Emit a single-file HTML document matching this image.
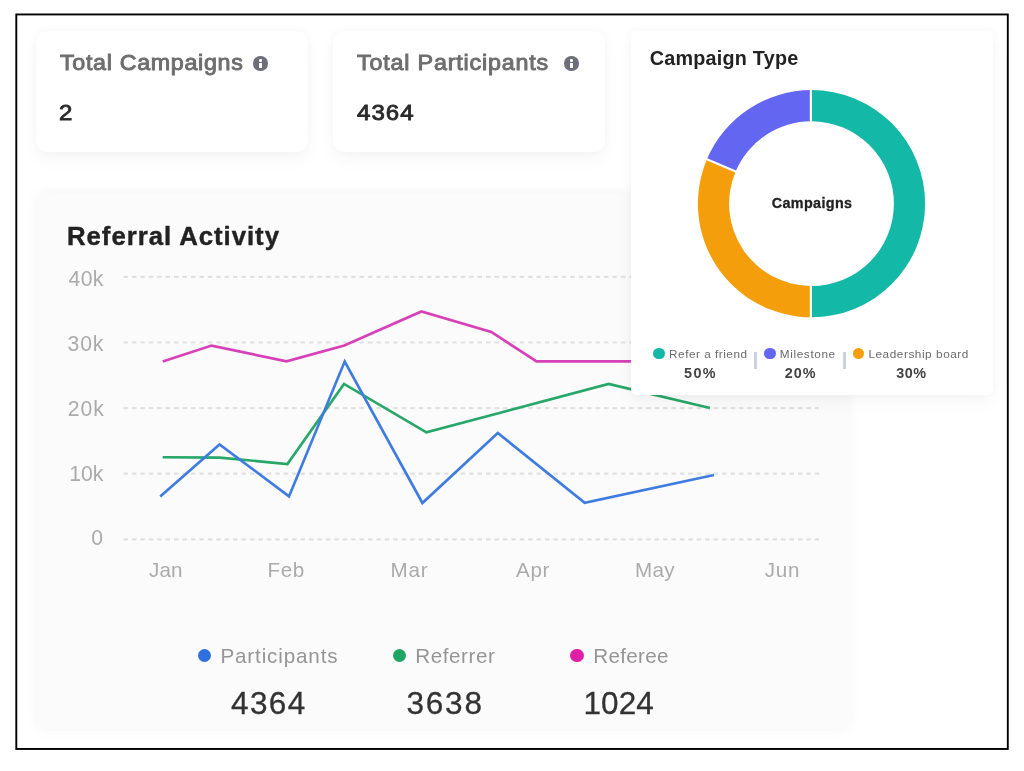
<!DOCTYPE html>
<html>
<head>
<meta charset="utf-8">
<style>
html,body{margin:0;padding:0;}
body{width:1024px;height:771px;background:#fff;position:relative;overflow:hidden;font-family:"Liberation Sans",sans-serif;}
.abs{position:absolute;}
.card{position:absolute;background:#fff;border-radius:12px;box-shadow:0 0 12px rgba(0,0,0,0.04),0 8px 18px rgba(0,0,0,0.035);}
.t{position:absolute;white-space:nowrap;line-height:1;}
.info{position:absolute;width:14.4px;height:14.4px;border-radius:50%;background:#6e6e7a;}
.info:before{content:"";position:absolute;left:6.1px;top:3.1px;width:2.2px;height:2.2px;background:#fff;border-radius:50%;}
.info:after{content:"";position:absolute;left:6.1px;top:6.2px;width:2.2px;height:5px;background:#fff;}
.dot{position:absolute;border-radius:50%;}
</style>
</head>
<body>
<div id="all" style="position:absolute;left:0;top:0;width:1024px;height:771px;filter:blur(0.4px);">
<svg class="abs" style="left:0;top:0;" width="1024" height="771"><rect x="16.3" y="14.45" width="991.5" height="734.5" fill="none" stroke="#000" stroke-width="1.9"/></svg>

<!-- Referral activity card -->
<div class="card" style="left:37px;top:193px;width:812px;height:536px;background:#fbfbfb;border-radius:5px;box-shadow:0 0 13px rgba(0,0,0,0.05);"></div>

<svg class="abs" style="left:0;top:0;" width="1024" height="771" viewBox="0 0 1024 771">
  <g stroke="#e1e1e1" stroke-width="2.2" stroke-dasharray="4.5 3.93" fill="none">
    <line x1="123.5" y1="276.9" x2="819" y2="276.9"/>
    <line x1="123.5" y1="342.5" x2="819" y2="342.5"/>
    <line x1="123.5" y1="408.1" x2="819" y2="408.1"/>
    <line x1="123.5" y1="473.7" x2="819" y2="473.7"/>
    <line x1="123.5" y1="539.3" x2="819" y2="539.3"/>
  </g>
  <g fill="none" stroke-width="2.65" stroke-linejoin="miter">
    <polyline stroke="#d840b8" points="162.7,361.5 211.6,345.6 286.6,361.4 344.3,345.5 421.4,311.5 491.3,332 536.5,361.4 640,361.4"/>
    <polyline stroke="#27a768" points="162.7,457.2 219.5,457.6 287.4,464 344,383.9 426.4,432.3 497.5,413.5 608.6,383.9 710,408"/>
    <polyline stroke="#3f7ce2" points="160.2,496.4 219.5,444.4 289,496.4 344.7,361.6 422.4,503 497.8,433 584.7,502.7 714,475"/>
  </g>
</svg>

<div class="dot" style="left:197.9px;top:648.9px;width:13.6px;height:13.6px;background:#2f6fde;"></div>
<div class="dot" style="left:392.8px;top:648.9px;width:13.6px;height:13.6px;background:#1fa463;"></div>
<div class="dot" style="left:570.3px;top:648.9px;width:13.6px;height:13.6px;background:#e01fa8;"></div>

<!-- stat cards -->
<div class="card" style="left:36px;top:31px;width:272px;height:121px;"></div>
<div class="info" style="left:253.3px;top:56.4px;"></div>
<div class="card" style="left:333px;top:31px;width:272px;height:121px;"></div>
<div class="info" style="left:564.4px;top:56.4px;"></div>

<!-- campaign type card -->
<div class="card" style="left:631px;top:31px;width:362px;height:364px;border-radius:6px;"></div>
<svg class="abs" style="left:0;top:0;" width="1024" height="771" viewBox="0 0 1024 771">
  <g transform="translate(811.5,203.7)">
    <path fill="#14b8a6" d="M0.00,-113.60 A113.6,113.6 0 0 1 0.00,113.60 L0.00,82.40 A82.4,82.4 0 0 0 0.00,-82.40 Z"/>
    <path fill="#f59e0b" d="M0.00,113.60 A113.6,113.6 0 0 1 -104.57,-44.39 L-75.85,-32.20 A82.4,82.4 0 0 0 0.00,82.40 Z"/>
    <path fill="#6366f1" d="M-104.57,-44.39 A113.6,113.6 0 0 1 -0.00,-113.60 L-0.00,-82.40 A82.4,82.4 0 0 0 -75.85,-32.20 Z"/>
    <line x1="-0.60" y1="-80.40" x2="-0.60" y2="-115.60" stroke="#fff" stroke-width="2.2"/>
    <line x1="-0.60" y1="80.40" x2="-0.60" y2="115.60" stroke="#fff" stroke-width="2.2"/>
    <line x1="-74.01" y1="-31.41" x2="-106.41" y2="-45.17" stroke="#fff" stroke-width="2.2"/>
  </g>
</svg>
<div class="dot" style="left:653.3px;top:347.7px;width:11.6px;height:11.6px;background:#14b8a6;"></div>
<div class="abs" style="left:754.3px;top:352.2px;width:2.7px;height:17.2px;background:#c9d1e6;"></div>
<div class="dot" style="left:764.0px;top:347.7px;width:11.6px;height:11.6px;background:#6366f1;"></div>
<div class="abs" style="left:843.2px;top:352.2px;width:2.7px;height:17.2px;background:#c9d1e6;"></div>
<div class="dot" style="left:852.8px;top:347.7px;width:11.6px;height:11.6px;background:#f59e0b;"></div>

<div id="txt" style="position:absolute;left:0;top:0;width:1024px;height:771px;will-change:transform;">
<div class="t" style="left:60.30px;top:52.00px;font-size:21.18px;font-weight:normal;color:#6e6e6e;letter-spacing:0.610px;transform:scaleX(1.1);transform-origin:0 0;-webkit-text-stroke:0.9px #6e6e6e;">Total Campaigns</div>
<div class="t" style="left:58.90px;top:101.25px;font-size:22.68px;font-weight:normal;color:#2a2a2a;letter-spacing:0.000px;transform:scaleX(1.06);transform-origin:0 0;-webkit-text-stroke:0.85px #2a2a2a;">2</div>
<div class="t" style="left:357.40px;top:52.00px;font-size:21.18px;font-weight:normal;color:#6e6e6e;letter-spacing:0.738px;transform:scaleX(1.1);transform-origin:0 0;-webkit-text-stroke:0.9px #6e6e6e;">Total Participants</div>
<div class="t" style="left:356.80px;top:101.25px;font-size:22.68px;font-weight:normal;color:#2a2a2a;letter-spacing:1.006px;transform:scaleX(1.06);transform-origin:0 0;-webkit-text-stroke:0.85px #2a2a2a;">4364</div>
<div class="t" style="left:67.00px;top:223.50px;font-size:25.76px;font-weight:bold;color:#222;letter-spacing:0.963px;-webkit-text-stroke:0.4px #222;">Referral Activity</div>
<div class="t" style="left:649.70px;top:48.75px;font-size:19.77px;font-weight:bold;color:#222;letter-spacing:0.233px;">Campaign Type</div>
<div class="t" style="left:771.80px;top:196.00px;font-size:14.37px;font-weight:bold;color:#222;letter-spacing:0.350px;-webkit-text-stroke:0.3px #222;">Campaigns</div>
<div class="t" style="left:68.60px;top:268.00px;font-size:21.20px;font-weight:normal;color:#ababab;letter-spacing:0.300px;">40k</div>
<div class="t" style="left:67.60px;top:333.25px;font-size:21.20px;font-weight:normal;color:#ababab;letter-spacing:0.800px;">30k</div>
<div class="t" style="left:67.80px;top:398.00px;font-size:21.20px;font-weight:normal;color:#ababab;letter-spacing:1.000px;">20k</div>
<div class="t" style="left:69.30px;top:462.50px;font-size:21.20px;font-weight:normal;color:#ababab;letter-spacing:-0.100px;">10k</div>
<div class="t" style="left:91.20px;top:527.00px;font-size:21.20px;font-weight:normal;color:#ababab;letter-spacing:0.000px;">0</div>
<div class="t" style="left:149.10px;top:559.75px;font-size:20.64px;font-weight:normal;color:#ababab;letter-spacing:0.100px;">Jan</div>
<div class="t" style="left:267.60px;top:559.75px;font-size:20.64px;font-weight:normal;color:#ababab;letter-spacing:0.600px;">Feb</div>
<div class="t" style="left:390.50px;top:559.75px;font-size:20.64px;font-weight:normal;color:#ababab;letter-spacing:0.800px;">Mar</div>
<div class="t" style="left:516.10px;top:559.75px;font-size:20.64px;font-weight:normal;color:#ababab;letter-spacing:0.600px;">Apr</div>
<div class="t" style="left:634.90px;top:559.75px;font-size:20.64px;font-weight:normal;color:#ababab;letter-spacing:0.400px;">May</div>
<div class="t" style="left:764.80px;top:559.75px;font-size:20.64px;font-weight:normal;color:#ababab;letter-spacing:0.700px;">Jun</div>
<div class="t" style="left:220.40px;top:645.50px;font-size:20.64px;font-weight:normal;color:#959595;letter-spacing:0.855px;">Participants</div>
<div class="t" style="left:415.20px;top:645.50px;font-size:20.64px;font-weight:normal;color:#959595;letter-spacing:0.571px;">Referrer</div>
<div class="t" style="left:593.20px;top:645.50px;font-size:20.64px;font-weight:normal;color:#959595;letter-spacing:0.333px;">Referee</div>
<div class="t" style="left:231.00px;top:687.50px;font-size:31.53px;font-weight:normal;color:#333;letter-spacing:1.400px;-webkit-text-stroke:0.3px #333;">4364</div>
<div class="t" style="left:406.60px;top:687.50px;font-size:31.53px;font-weight:normal;color:#333;letter-spacing:1.733px;-webkit-text-stroke:0.3px #333;">3638</div>
<div class="t" style="left:583.50px;top:687.50px;font-size:31.53px;font-weight:normal;color:#333;letter-spacing:0.067px;-webkit-text-stroke:0.3px #333;">1024</div>
<div class="t" style="left:669.10px;top:347.75px;font-size:11.77px;font-weight:normal;color:#6a6a6a;letter-spacing:0.508px;">Refer a friend</div>
<div class="t" style="left:779.80px;top:347.75px;font-size:11.77px;font-weight:normal;color:#6a6a6a;letter-spacing:0.625px;">Milestone</div>
<div class="t" style="left:868.40px;top:347.75px;font-size:11.77px;font-weight:normal;color:#6a6a6a;letter-spacing:0.560px;">Leadership board</div>
<div class="t" style="left:684.00px;top:365.75px;font-size:14.39px;font-weight:bold;color:#444;letter-spacing:1.400px;">50%</div>
<div class="t" style="left:784.70px;top:365.75px;font-size:14.39px;font-weight:bold;color:#444;letter-spacing:1.000px;">20%</div>
<div class="t" style="left:896.30px;top:365.75px;font-size:14.39px;font-weight:bold;color:#444;letter-spacing:0.500px;">30%</div>
</div>
</div>
</body>
</html>
